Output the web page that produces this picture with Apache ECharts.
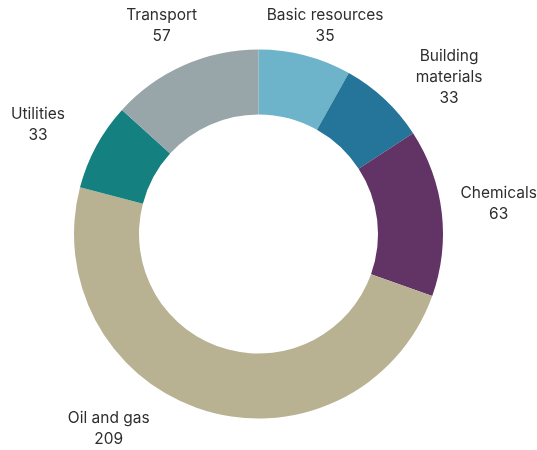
<!DOCTYPE html>
<html>
<head>
<meta charset="utf-8">
<script src="https://cdn.jsdelivr.net/npm/echarts@6/dist/echarts.min.js"></script>
<style>
  html, body { margin: 0; padding: 0; background: #fff; }
  #main { width: 537px; height: 450px; }
</style>
</head>
<body>
<div id="main"></div>
<script>
var sectors = ['Basic resources', 'Building\nmaterials', 'Chemicals', 'Oil and gas', 'Utilities', 'Transport'];
var values = [35, 33, 63, 209, 33, 57];
var colors = ['#6db3c9', '#247599', '#623466', '#b8b293', '#14807f', '#98a6aa'];

// where each label sits: angle (deg, clockwise from top) and distance from centre
var labelAngle = [17.7, 50.5, 82.9, 217.5, 296.3, 335.1];
var labelRadius = [219, 247, 242, 246, 246, 230];

var cx = 258.5, cy = 234;

var myChart = echarts.init(document.getElementById('main'));

var pieData = [];
for (var i = 0; i < sectors.length; i++) {
    pieData.push({ name: sectors[i], value: values[i], itemStyle: { color: colors[i] } });
}

var option = {
    animation: false,
    series: [
        {
            type: 'pie',
            center: [cx, cy],
            radius: [119.5, 184.5],
            startAngle: 90,
            clockwise: true,
            avoidLabelOverlap: false,
            itemStyle: { borderWidth: 0 },
            label: {
                show: true,
                position: 'outside',
                formatter: function (p) {
                    var lines = p.name.split('\n');
                    var out = [];
                    for (var k = 0; k < lines.length; k++) out.push('{t|' + lines[k] + '}');
                    out.push('{t|' + p.value + '}');
                    return out.join('\n');
                },
                rich: {
                    t: {
                        align: 'center',
                        fontFamily: 'Inter',
                        fontSize: 15.5,
                        lineHeight: 21,
                        color: '#2e2e2e'
                    }
                }
            },
            labelLine: { show: false },
            labelLayout: function (params) {
                var a = labelAngle[params.dataIndex] * Math.PI / 180;
                var r = labelRadius[params.dataIndex];
                return {
                    x: cx + r * Math.sin(a),
                    y: cy - r * Math.cos(a),
                    align: 'center',
                    verticalAlign: 'middle'
                };
            },
            data: pieData
        }
    ]
};

myChart.setOption(option);
</script>
</body>
</html>
